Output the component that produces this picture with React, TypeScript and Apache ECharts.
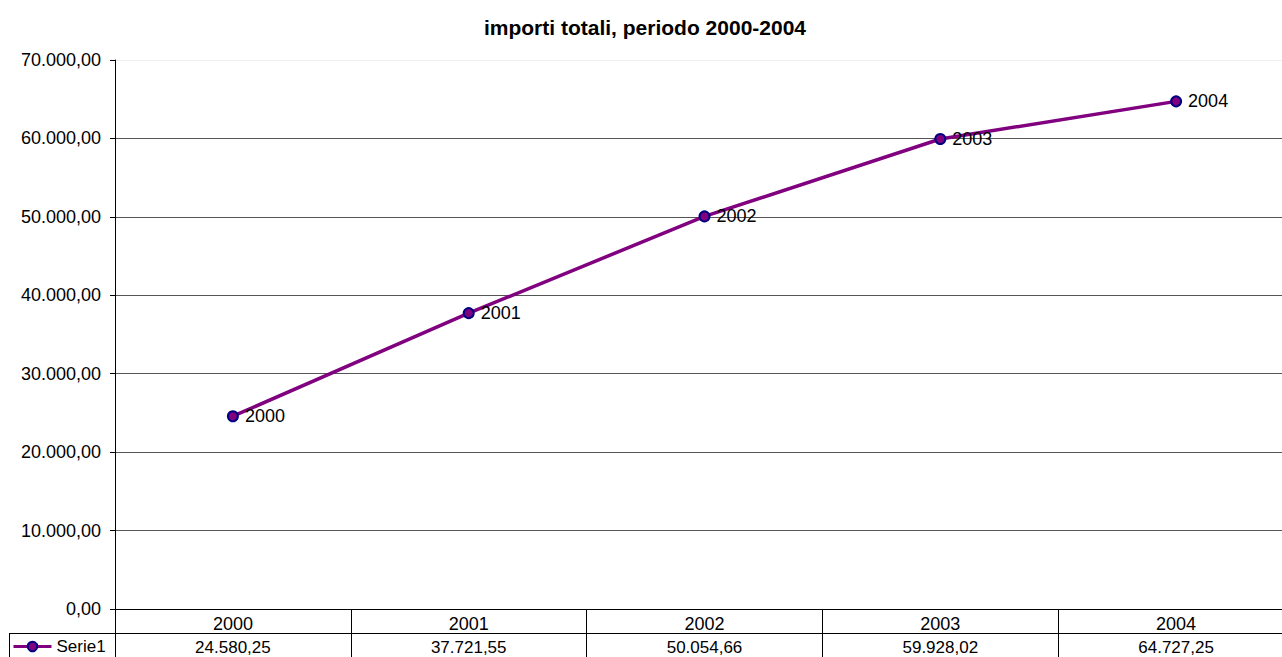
import React, { useEffect, useRef } from "react";
import * as echarts from "echarts";

const years = ["2000", "2001", "2002", "2003", "2004"];
const values = [24580.25, 37721.55, 50054.66, 59928.02, 64727.25];
const seriesName = "Serie1";
const titleText = "importi totali, periodo 2000-2004";

function itFormat(v: number): string {
  const fixed = Math.abs(v).toFixed(2);
  const [intPart, dec] = fixed.split(".");
  const grouped = intPart.replace(/\B(?=(\d{3})+(?!\d))/g, ".");
  return (v < 0 ? "-" : "") + grouped + "," + dec;
}

const FONT = "'Liberation Sans', Arial, sans-serif";

export default function App() {
  const ref = useRef<HTMLDivElement>(null);
  useEffect(() => {
    if (!ref.current) return;
    const chart = echarts.init(ref.current, undefined, { renderer: "svg" });
    chart.setOption({
      animation: false,
      backgroundColor: "#fff",
      textStyle: { fontFamily: FONT },
      title: {
        text: titleText,
        left: 640,
        top: 12,
        textAlign: "center",
        textStyle: { fontFamily: FONT, fontSize: 21, fontWeight: "bold", color: "#000" },
      },
      legend: {
        left: 12,
        top: 638,
        padding: 0,
        itemWidth: 38,
        itemHeight: 12,
        itemGap: 4,
        lineStyle: { width: 3, color: "#800080" },
        textStyle: { fontFamily: FONT, fontSize: 17, color: "#000" },
        data: [seriesName],
      },
      grid: {
        left: 115,
        right: 0,
        top: 60,
        bottom: 48,
        containLabel: false,
        outerBoundsMode: "none",
      },
      xAxis: [
        {
          type: "category",
          data: years,
          boundaryGap: true,
          position: "bottom",
          axisLine: { show: true, lineStyle: { color: "#000", width: 1 } },
          axisTick: { show: true, length: 48, alignWithLabel: false, lineStyle: { color: "#000" } },
          axisLabel: { margin: 6, fontFamily: FONT, fontSize: 18, color: "#000" },
          splitLine: { show: false },
        },
        {
          type: "category",
          data: years,
          boundaryGap: true,
          position: "bottom",
          offset: 24,
          axisLine: { show: true, lineStyle: { color: "#000", width: 1 } },
          axisTick: { show: false },
          axisLabel: {
            margin: 6,
            fontFamily: FONT,
            fontSize: 17,
            color: "#000",
            formatter: (_v: string, i: number) => itFormat(values[i]),
          },
          splitLine: { show: false },
        },
      ],
      yAxis: {
        type: "value",
        min: 0,
        max: 70000,
        interval: 10000,
        axisLine: { show: true, lineStyle: { color: "#000" } },
        axisTick: { show: true, length: 5, lineStyle: { color: "#000" } },
        axisLabel: {
          margin: 14,
          fontFamily: FONT,
          fontSize: 18,
          color: "#000",
          formatter: (v: number) => itFormat(v),
        },
        splitLine: {
          show: true,
          lineStyle: {
            color: ["#000", "#555", "#555", "#555", "#555", "#555", "#555", "#eeeeee"],
            width: 1,
          },
        },
      },
      graphic: [
        { type: "line", shape: { x1: 9, y1: 633.5, x2: 115, y2: 633.5 }, style: { stroke: "#000", lineWidth: 1 } },
        { type: "line", shape: { x1: 9.5, y1: 633, x2: 9.5, y2: 657 }, style: { stroke: "#000", lineWidth: 1 } },
      ],
      series: [
        {
          name: seriesName,
          type: "line",
          xAxisIndex: 0,
          data: values,
          symbol: "circle",
          symbolSize: 10,
          lineStyle: { color: "#800080", width: 3.5 },
          itemStyle: { color: "#800080", borderColor: "#000080", borderWidth: 2 },
          label: {
            show: true,
            position: "right",
            distance: 6,
            formatter: "{b}",
            fontFamily: FONT,
            fontSize: 18,
            color: "#000",
          },
        },
      ],
    });
    return () => chart.dispose();
  }, []);
  return (
    <div
      style={{
        position: "absolute",
        left: 0,
        top: 0,
        width: 1282,
        height: 657,
        overflow: "hidden",
        background: "#fff",
      }}
    >
      <div ref={ref} style={{ width: 1294, height: 657 }} />
    </div>
  );
}
